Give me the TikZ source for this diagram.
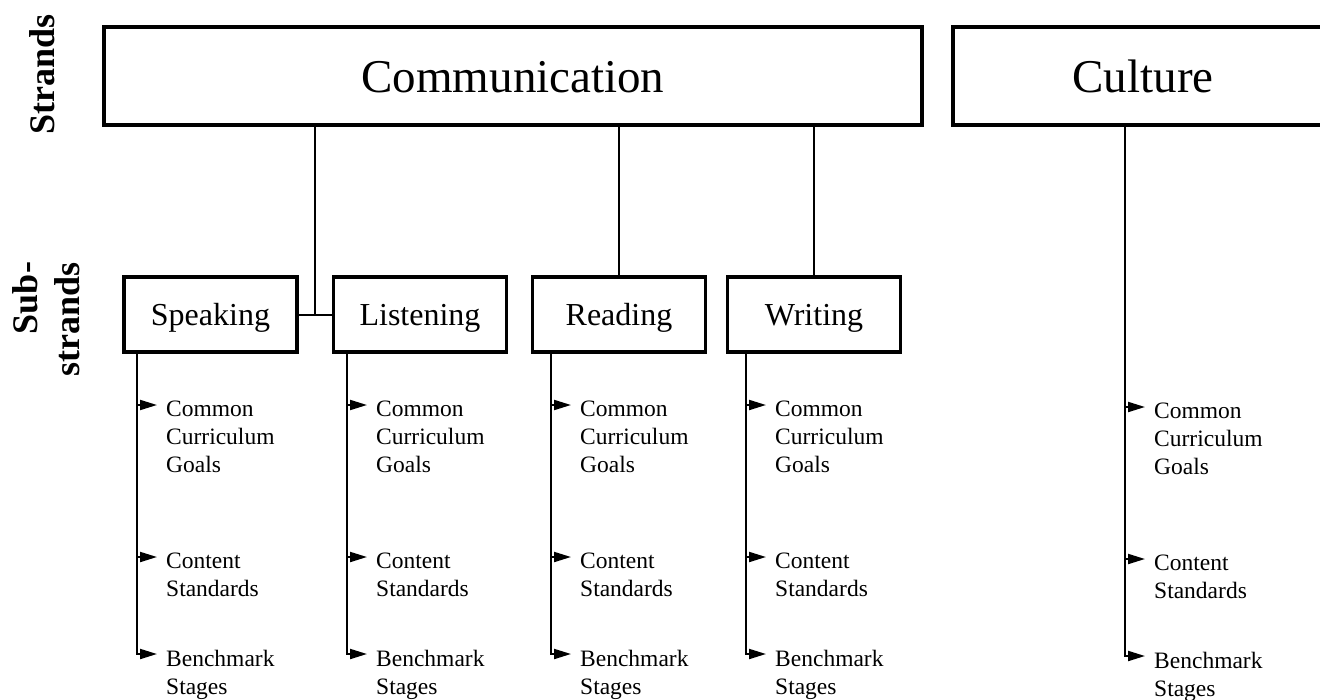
\documentclass[tikz,border=0pt]{standalone}
\usepackage{fontspec}
\setmainfont{Liberation Serif}
\usetikzlibrary{arrows.meta,calc}

\begin{document}
\begin{tikzpicture}[x=1pt, y=-1pt]
    \tikzstyle{strand} = [rectangle, draw, line width=3.3pt, inner sep=0pt, minimum width=818pt, minimum height=98pt, text height=32pt, text depth=0pt, font=\fontsize{47}{54}\selectfont]
    \tikzstyle{substrand} = [rectangle, draw, line width=3.3pt, inner sep=0pt, minimum width=173pt, minimum height=75pt, text height=26pt, text depth=5pt, font=\fontsize{32}{38}\selectfont]
    \tikzstyle{item} = [anchor=north west, inner sep=0pt, align=left, font=\fontsize{23.5}{28}\selectfont]
    \tikzstyle{rowlabel} = [rotate=90, inner sep=0pt, align=right, font=\bfseries\fontsize{36}{42}\selectfont]
    \tikzstyle{link} = [line width=2pt]
    \tikzstyle{arr} = [line width=2pt, -{Triangle[length=17pt, width=10pt]}]

    \useasboundingbox (0,0) rectangle (1320,699);

    % Row labels
    \node[rowlabel] (lstrands) at (42,74) {Strands};
    \node[rowlabel] (lsub) at (46,319) {Sub-\\strands};

    % Strands
    \node[strand] (comm) at (513,76) {Communication};
    \node[strand, minimum width=380pt] (cult) at (1143,76) {Culture};

    % Sub-strands
    \node[substrand] (speak) at (210.5,314.5) {Speaking};
    \node[substrand] (listen) at (420,314.5) {Listening};
    \node[substrand] (read) at (619,314.5) {Reading};
    \node[substrand] (write) at (814,314.5) {Writing};

    % Communication to its sub-strands
    \coordinate (join) at ($(speak.east)!0.5!(listen.west)$);
    \draw[link] (speak.east) -- (listen.west);
    \draw[link] (comm.south -| join) -- (join);
    \draw[link] (comm.south -| read.north) -- (read.north);
    \draw[link] (comm.south -| write.north) -- (write.north);

    % Goals, standards and stages under each one
    \foreach \name/\lx/\dy in {speak/137/0, listen/347/0, read/551/0, write/746/0, cult/1125/2} {
        \coordinate (\name-x) at (\lx,0);
        \node[item] (\name-goals) at (\lx+29, 401+\dy) {Common\\Curriculum\\Goals};
        \node[item] (\name-std) at (\lx+29, 553+\dy) {Content\\Standards};
        \node[item] (\name-stage) at (\lx+29, 650+\dy) {Benchmark\\Stages};
        \foreach \it in {goals, std, stage}
            \coordinate (\name-\it-tip) at ($(\name-\it.north west)+(-9,4)$);
        \draw[arr] (\name-x |- \name-goals-tip) -- (\name-goals-tip);
        \draw[arr] (\name-x |- \name-std-tip) -- (\name-std-tip);
        \draw[arr] (\name.south -| \name-x) |- (\name-stage-tip);
    }

\end{tikzpicture}
\end{document}
